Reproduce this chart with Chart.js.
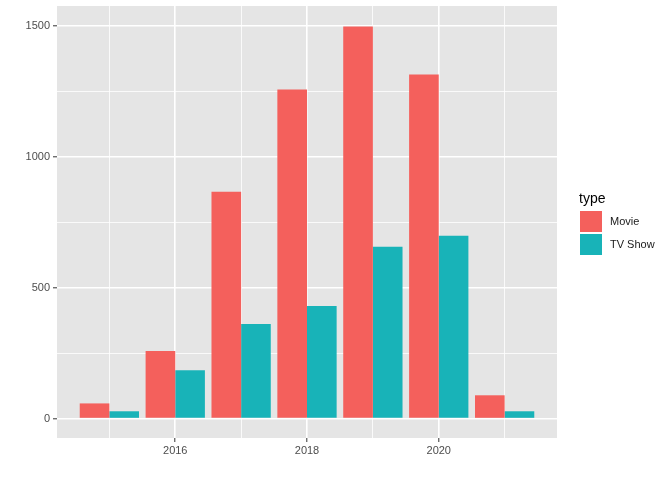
<!DOCTYPE html>
<html>
<head>
<meta charset="utf-8">
<script src="https://cdn.jsdelivr.net/npm/chart.js@4"></script>
<style>
  body { margin: 0; background: #ffffff; }
</style>
</head>
<body>
<canvas id="typeChart" width="672" height="480"></canvas>
<script>
const years = [2015, 2016, 2017, 2018, 2019, 2020, 2021];
const movieCounts = [58, 258, 866, 1256, 1497, 1314, 89];
const tvCounts = [28, 185, 361, 430, 656, 698, 28];
const seriesNames = ["Movie", "TV Show"];
const yTicks = [0, 250, 500, 750, 1000, 1250, 1500];
const xTicks = [2015, 2016, 2017, 2018, 2019, 2020, 2021];

const colors = ["#f4605c", "#18b3b8"];
const axisFont = { family: "Liberation Sans", size: 11 };

function points(values) {
  return years.map((y, i) => ({ x: y, y: values[i] }));
}

const isMajorY = c => !!c.tick && c.tick.value % 500 === 0;
const isMajorX = c => !!c.tick && c.tick.value % 2 === 0;

const legendPlugin = {
  id: "ggLegend",
  afterDraw(chart) {
    const ctx = chart.ctx;
    ctx.save();
    ctx.fillStyle = "#000000";
    ctx.font = "14px 'Liberation Sans'";
    ctx.textBaseline = "alphabetic";
    ctx.fillText("type", 579, 203);
    ctx.font = "11px 'Liberation Sans'";
    ctx.textBaseline = "middle";
    seriesNames.forEach((name, i) => {
      const top = 211 + i * 23;
      ctx.fillStyle = colors[i];
      ctx.fillRect(580, top, 22, 21);
      ctx.fillStyle = "#1a1a1a";
      ctx.fillText(name, 610, top + 11);
    });
    ctx.restore();
  }
};

const panelPlugin = {
  id: "panelBg",
  beforeDraw(chart) {
    const a = chart.chartArea;
    chart.ctx.save();
    chart.ctx.fillStyle = "#e5e5e5";
    chart.ctx.fillRect(a.left, a.top, a.right - a.left, a.bottom - a.top);
    chart.ctx.restore();
  }
};

new Chart(document.getElementById("typeChart"), {
  type: "bar",
  data: {
    datasets: [
      { label: seriesNames[0], data: points(movieCounts), backgroundColor: colors[0] },
      { label: seriesNames[1], data: points(tvCounts), backgroundColor: colors[1] }
    ]
  },
  options: {
    responsive: false,
    animation: false,
    layout: { padding: { top: 6, right: 115, left: 0, bottom: 0 } },
    categoryPercentage: 0.9,
    barPercentage: 1.0,
    plugins: {
      legend: { display: false },
      tooltip: { enabled: false }
    },
    scales: {
      x: {
        type: "linear",
        offset: false,
        min: 2014.205,
        max: 2021.795,
        afterBuildTicks: s => { s.ticks = xTicks.map(v => ({ value: v })); },
        afterFit: s => { s.height = 42; s.paddingLeft = 0; s.paddingRight = 0; },
        border: { display: false },
        grid: {
          offset: false,
          color: "#ffffff",
          lineWidth: c => isMajorX(c) ? 1.6 : 0.8,
          tickColor: c => isMajorX(c) ? "#333333" : "rgba(0,0,0,0)",
          tickLength: 4,
          tickWidth: 1
        },
        ticks: {
          autoSkip: false,
          maxRotation: 0,
          padding: 2,
          color: "#4d4d4d",
          font: axisFont,
          callback: v => v % 2 === 0 ? String(v) : ""
        }
      },
      y: {
        min: -74,
        max: 1575,
        afterBuildTicks: s => { s.ticks = yTicks.map(v => ({ value: v })); },
        afterFit: s => { s.width = 57; s.paddingTop = 0; s.paddingBottom = 0; },
        border: { display: false },
        grid: {
          color: "#ffffff",
          lineWidth: c => isMajorY(c) ? 1.6 : 0.8,
          tickColor: c => isMajorY(c) ? "#333333" : "rgba(0,0,0,0)",
          tickLength: 4,
          tickWidth: 1
        },
        ticks: {
          autoSkip: false,
          padding: 3,
          color: "#4d4d4d",
          font: axisFont,
          callback: v => v % 500 === 0 ? String(v) : ""
        }
      }
    }
  },
  plugins: [panelPlugin, legendPlugin]
});
</script>
</body>
</html>
